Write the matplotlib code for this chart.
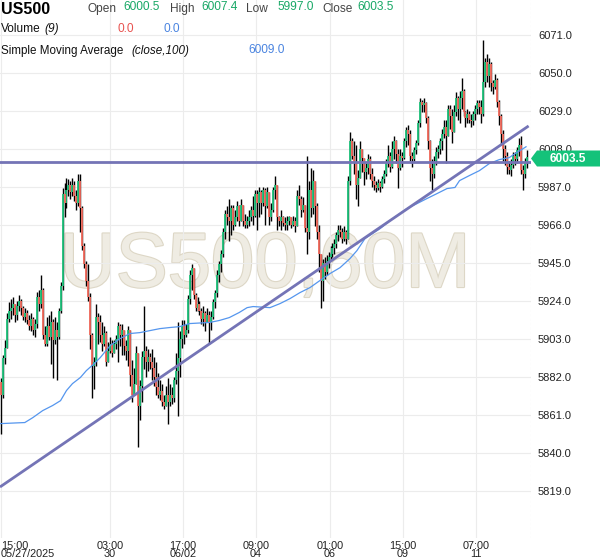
import numpy as np
import matplotlib.pyplot as plt
from matplotlib.patches import Polygon
import matplotlib.patheffects as pe

# ============================================================================
# 1. DADOS (velas de 60 min)
# ============================================================================
first_open = 5879.0

closes = [
    5872, 5892, 5898, 5914, 5918, 5920, 5922, 5916, 5921, 5924,
    5920, 5915, 5917, 5913, 5910, 5914, 5908, 5911, 5926, 5922,
    5930, 5905, 5900, 5910, 5904, 5912, 5902, 5908, 5904, 5918,
    5932, 5983, 5978, 5985, 5988, 5984, 5988, 5982, 5978, 5990,
    5975, 5954, 5944, 5935, 5926, 5905, 5888, 5890, 5915, 5912,
    5905, 5900, 5906, 5890, 5896, 5900, 5895, 5900, 5903, 5910,
    5905, 5908, 5899, 5896, 5908, 5883, 5872, 5878, 5895, 5866,
    5877, 5893, 5896, 5890, 5893, 5890, 5887, 5882, 5876, 5872,
    5874, 5868, 5866, 5872, 5868, 5872, 5870, 5880, 5885, 5892,
    5903, 5910, 5905, 5908, 5925, 5938, 5942, 5927, 5920, 5922,
    5918, 5914, 5917, 5912, 5916, 5912, 5915, 5923, 5928, 5938,
    5944, 5950, 5962, 5972, 5970, 5968, 5975, 5966, 5970, 5976,
    5968, 5977, 5968, 5966, 5968, 5970, 5974, 5971, 5983, 5978,
    5984, 5978, 5985, 5976, 5984, 5970, 5974, 5985, 5988, 5970,
    5968, 5970, 5967, 5966, 5968, 5970, 5966, 5968, 5965, 5982,
    5980, 5974, 5977, 5964, 5962, 5985, 5975, 5990, 5976, 5962,
    5950, 5935, 5945, 5940, 5946, 5948, 5950, 5953, 5955, 5960,
    5963, 5962, 5958, 5962, 5958, 5990, 6012, 6004, 6000, 5988,
    5992, 6008, 6003, 5995, 5997, 6002, 5994, 5990, 5988, 5986,
    5989, 5987, 5991, 5994, 6000, 6004, 5998, 6008, 6012, 6005,
    5997, 6004, 6003, 6012, 6018, 6016, 6004, 6002, 6007, 6011,
    6022, 6034, 6032, 6033, 6025, 6012, 5997, 5994, 6001, 6006,
    6008, 6012, 6016, 6020, 6015, 6030, 6026, 6017, 6028, 6036,
    6030, 6036, 6040, 6028, 6025, 6027, 6024, 6023, 6027, 6030,
    6033, 6031, 6027, 6045, 6056, 6048, 6055, 6044, 6042, 6046,
    6034, 6026, 6016, 6008, 6004, 5998, 5996, 5999, 6004, 6002,
    6007, 6010, 5996, 5994, 6000.5, 6003.5,
]

highs = [
    5881, 5894, 5902, 5917, 5923, 5925, 5926, 5922, 5924, 5927,
    5925, 5921, 5920, 5919, 5916, 5917, 5915, 5914, 5929, 5930,
    5938, 5931, 5910, 5915, 5916, 5918, 5914, 5915, 5912, 5920,
    5934, 5986, 5989, 5992, 5991, 5990, 5992, 5990, 5985, 5994,
    5994, 5976, 5956, 5946, 5944, 5928, 5906, 5893, 5922, 5917,
    5916, 5912, 5910, 5907, 5901, 5904, 5902, 5902, 5905, 5912,
    5911, 5911, 5908, 5902, 5910, 5905, 5891, 5887, 5899, 5889,
    5880, 5896, 5921, 5899, 5897, 5895, 5897, 5893, 5890, 5884,
    5880, 5878, 5872, 5877, 5881, 5878, 5876, 5882, 5895, 5912,
    5907, 5913, 5913, 5911, 5927, 5941, 5944, 5941, 5928, 5926,
    5924, 5920, 5921, 5918, 5920, 5918, 5918, 5925, 5930, 5941,
    5946, 5952, 5964, 5974, 5976, 5980, 5977, 5977, 5974, 5979,
    5977, 5980, 5976, 5972, 5971, 5974, 5976, 5982, 5985, 5985,
    5987, 5985, 5987, 5986, 5987, 5982, 5978, 5987, 5993, 5984,
    5971, 5974, 5971, 5970, 5971, 5971, 5969, 5971, 5970, 5985,
    5988, 5982, 5981, 5976, 6004, 5990, 5997, 5996, 5990, 5978,
    5966, 5950, 5947, 5948, 5949, 5951, 5954, 5956, 5958, 5962,
    5966, 5966, 5964, 5965, 5963, 5993, 6017, 6014, 6012, 6010,
    5996, 6012, 6008, 6003, 6000, 6005, 6004, 5997, 5993, 5990,
    5991, 5990, 5993, 5996, 6002, 6010, 6006, 6012, 6015, 6013,
    6008, 6008, 6006, 6014, 6020, 6021, 6018, 6006, 6009, 6013,
    6024, 6036, 6035, 6036, 6034, 6026, 6013, 6002, 6004, 6009,
    6010, 6014, 6019, 6024, 6024, 6032, 6032, 6030, 6032, 6039,
    6037, 6040, 6047, 6041, 6029, 6030, 6029, 6027, 6029, 6032,
    6035, 6035, 6035, 6068, 6058, 6060, 6058, 6056, 6046, 6049,
    6047, 6035, 6027, 6018, 6010, 6006, 6001, 6002, 6006, 6006,
    6009, 6014, 6015, 5999, 6003, 6007.4,
]

lows = [
    5850, 5870, 5889, 5898, 5912, 5914, 5916, 5912, 5913, 5918,
    5916, 5913, 5912, 5911, 5908, 5907, 5905, 5904, 5909, 5918,
    5920, 5903, 5899, 5899, 5902, 5889, 5881, 5900, 5880, 5903,
    5917, 5930, 5970, 5975, 5982, 5980, 5982, 5979, 5974, 5976,
    5962, 5952, 5942, 5932, 5924, 5897, 5870, 5875, 5888, 5900,
    5901, 5896, 5899, 5888, 5893, 5895, 5893, 5895, 5897, 5890,
    5899, 5894, 5894, 5891, 5888, 5877, 5868, 5876, 5879, 5843,
    5858, 5868, 5886, 5882, 5885, 5886, 5880, 5877, 5872, 5870,
    5869, 5866, 5864, 5867, 5856, 5866, 5867, 5868, 5878, 5860,
    5882, 5898, 5900, 5904, 5906, 5922, 5930, 5925, 5918, 5918,
    5916, 5911, 5910, 5907, 5912, 5900, 5908, 5914, 5920, 5926,
    5934, 5940, 5948, 5958, 5966, 5957, 5960, 5963, 5965, 5968,
    5965, 5968, 5965, 5964, 5964, 5965, 5968, 5966, 5970, 5963,
    5970, 5972, 5976, 5966, 5975, 5966, 5968, 5973, 5980, 5963,
    5965, 5963, 5965, 5963, 5963, 5966, 5964, 5965, 5962, 5965,
    5977, 5970, 5973, 5962, 5950, 5958, 5970, 5972, 5965, 5958,
    5940, 5920, 5924, 5936, 5938, 5942, 5946, 5948, 5950, 5953,
    5957, 5959, 5956, 5957, 5955, 5958, 5988, 6002, 5994, 5980,
    5976, 5995, 5995, 5988, 5991, 5994, 5991, 5987, 5985, 5984,
    5985, 5984, 5986, 5989, 5993, 5998, 5995, 5997, 6002, 6000,
    5986, 5996, 5998, 6002, 6009, 6010, 6001, 5998, 6001, 6005,
    6010, 6020, 6028, 6028, 6022, 6008, 5990, 5985, 5992, 5999,
    6003, 6005, 6007, 6014, 6000, 6015, 6019, 6011, 6018, 6026,
    6024, 6022, 6030, 6026, 6020, 6022, 6022, 6020, 6021, 6024,
    6027, 6027, 6022, 6026, 6042, 6045, 6042, 6040, 6038, 6041,
    6031, 6021, 6010, 6001, 5999, 5994, 5994, 5993, 5997, 5999,
    6000, 6004, 5994, 5985, 5992, 5997.0,
]

# media movel simples (close,100) lida em alguns pontos
sma_idx = [-0.5, 12, 16, 21, 26, 30, 33, 36, 40, 43, 47, 50, 55, 60, 65,
           70, 75, 80, 85, 90, 95, 105, 110, 115, 120, 124, 127, 135.5,
           140.5, 145.6, 150.6, 155.7, 160.7, 165.7, 170.8, 175.8, 179.3,
           183.4, 191, 196, 201, 204.5, 209.6, 214.6, 219.6, 224.7, 228.7,
           231, 236, 241, 246, 251, 256, 259, 261.5, 264.5]
sma_val = [5856.0, 5856.6, 5859.3, 5863.2, 5866.0, 5868.7, 5874.3, 5878.1,
           5881.5, 5885.3, 5889.2, 5892.5, 5899.1, 5903.0, 5905.8, 5906.3,
           5907.4, 5908.5, 5909.1, 5909.6, 5911.3, 5911.9, 5913.0, 5914.6,
           5917.4, 5920.1, 5920.7, 5920.1, 5922.3, 5925.1, 5928.4, 5931.2,
           5935.1, 5938.9, 5942.2, 5947.2, 5951.6, 5958.3, 5963.8, 5968.2,
           5972.1, 5974.8, 5977.6, 5980.4, 5983.1, 5985.9, 5986.5, 5990.3,
           5993.1, 5995.8, 5999.7, 6001.9, 6003.0, 6005.2, 6006.9, 6009.0]

# linhas desenhadas pelo usuario
trend_idx = [-0.5, 265.8]
trend_val = [5821.0, 6020.5]
hline_val = 6000.8

price_ticks = [5819.0, 5840.0, 5861.0, 5882.0, 5903.0, 5924.0, 5945.0,
               5966.0, 5987.0, 6008.0, 6029.0, 6050.0, 6071.0]
time_pos = [0, 54.9, 91.7, 128.5, 165.7, 202.5, 239.3]
time_labels = ['15:00\n05/27/2025', '03:00\n30', '17:00\n06/02', '09:00\n04',
               '01:00\n06', '15:00\n09', '07:00\n11']

# ============================================================================
# 2. FIGURA
# ============================================================================
plt.rcParams['font.family'] = ['Liberation Sans', 'DejaVu Sans']

W, H = 600, 558
fig = plt.figure(figsize=(W / 100, H / 100), dpi=100)
ax = fig.add_axes([0, 20 / H, 531 / W, 538 / H])

GREEN = '#1fc27c'
RED = '#f36a5c'

c = np.array(closes, dtype=float)
o = np.concatenate([[first_open], c[:-1]])
hi = np.maximum(np.array(highs, dtype=float), np.maximum(o, c))
lo = np.minimum(np.array(lows, dtype=float), np.minimum(o, c))
x = np.arange(len(c))
up = c >= o

# pavios e corpos
ax.vlines(x, lo, hi, color='black', lw=1.0, zorder=3)
top = np.maximum(o, c)
bot = np.minimum(o, c)
bot = np.where(top - bot < 0.4, top - 0.4, bot)
ax.vlines(x[up], bot[up], top[up], color=GREEN, lw=1.3, zorder=4)
ax.vlines(x[~up], bot[~up], top[~up], color=RED, lw=1.3, zorder=4)

# media movel
ax.plot(sma_idx, sma_val, color='#5596ee', lw=0.9, zorder=5)

# linhas de tendencia e horizontal
ax.plot(trend_idx, trend_val, color='#7474b6', lw=2.0, zorder=6,
        solid_capstyle='butt')
ax.axhline(hline_val, color='#7474b6', lw=2.0, zorder=6)

ax.set_xlim(-0.5, 267)
ax.set_ylim(5792.8, 6090.1)

ax.set_yticks(price_ticks)
ax.set_yticklabels([f'{v:.1f}' for v in price_ticks])
ax.yaxis.tick_right()
ax.tick_params(axis='y', length=0, pad=5, labelsize=8, labelcolor='#222222')

ax.set_xticks(time_pos)
ax.set_xticklabels(time_labels)
ax.tick_params(axis='x', length=0, pad=2, labelsize=7.8, labelcolor='#222222')
for lab in ax.get_xticklabels():
    lab.set_linespacing(0.78)
ax.get_xticklabels()[0].set_horizontalalignment('left')

ax.grid(True, color='#ececec', lw=0.8, zorder=0)
ax.set_axisbelow(True)
for s in ax.spines.values():
    s.set_visible(False)
ax.axvline(267, color='#dedede', lw=0.8, ls=(0, (2, 2)), zorder=1)

# marca d'agua
fig.text(265 / W, 1 - 287 / H, 'US500,60M', fontsize=56, color='#efece3',
         ha='center', va='baseline', zorder=1,
         path_effects=[pe.withStroke(linewidth=1.6, foreground='#ddd7c6')])
# manter marca d'agua atras das velas
ax.set_zorder(2)
ax.patch.set_alpha(0)

# ============================================================================
# 3. CABECALHO
# ============================================================================
def ftxt(px, py, s, **kw):
    fig.text(px / W, 1 - py / H, s, va='center', ha='left', **kw)

ftxt(1, 9, 'US500', fontsize=11.5, fontweight='bold', color='black')
ftxt(88, 9, 'Open', fontsize=8.6, color='#444444')
ftxt(123, 7, '6000.5', fontsize=8.6, color='#18a866')
ftxt(170, 9, 'High', fontsize=8.6, color='#444444')
ftxt(201, 7, '6007.4', fontsize=8.6, color='#18a866')
ftxt(246, 9, 'Low', fontsize=8.6, color='#444444')
ftxt(277, 7, '5997.0', fontsize=8.6, color='#18a866')
ftxt(322, 9, 'Close', fontsize=8.6, color='#444444')
ftxt(357, 7, '6003.5', fontsize=8.6, color='#18a866')

ftxt(1, 29, 'Volume', fontsize=8.6, color='#111111')
ftxt(44, 29, '(9)', fontsize=8.6, color='#111111', style='italic')
ftxt(118, 29, '0.0', fontsize=8.6, color='#e8524f')
ftxt(163, 29, '0.0', fontsize=8.6, color='#4a84e0')

ftxt(1, 51, 'Simple Moving Average', fontsize=8.4, color='#111111')
ftxt(131, 51, '(close,100)', fontsize=8.4, color='#111111', style='italic')
ftxt(248, 50, '6009.0', fontsize=8.6, color='#4a84e0')

# etiqueta do ultimo preco
tag = Polygon([[531 / W, 1 - 158.5 / H], [537 / W, 1 - 150.5 / H],
               [600 / W, 1 - 150.5 / H], [600 / W, 1 - 166.5 / H],
               [537 / W, 1 - 166.5 / H]], closed=True,
              transform=fig.transFigure, facecolor='#14c27a',
              edgecolor='none', zorder=10)
fig.patches.append(tag)
fig.text(568 / W, 1 - 158.5 / H, '6003.5', fontsize=8.6, fontweight='bold',
         color='white', ha='center', va='center', zorder=11)

plt.savefig('out.png', dpi=100)
